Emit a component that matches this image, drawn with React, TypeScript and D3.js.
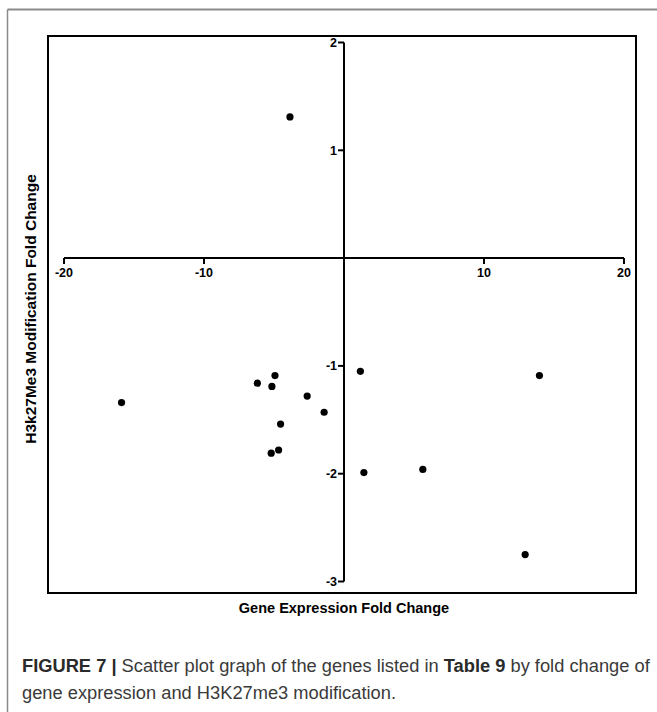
import React from "react";
import * as d3 from "d3";

const geneFC = [-3.86, -15.89, -6.19, -4.93, -5.15, -2.63, -1.42, -4.53, -5.2, -4.67, 1.17, 1.42, 5.63, 13.96, 12.94];
const h3k27FC = [1.31, -1.34, -1.16, -1.09, -1.19, -1.28, -1.43, -1.54, -1.81, -1.78, -1.05, -1.99, -1.96, -1.09, -2.75];
const xTicks = [-20, -10, 10, 20];
const yTicks = [2, 1, -1, -2, -3];
const xTitle = "Gene Expression Fold Change";
const yTitle = "H3k27Me3 Modification Fold Change";

export default function App() {
  const x = d3.scaleLinear().domain([-20, 20]).range([64, 624]);
  const y = d3.scaleLinear().domain([-3, 2]).range([581.5, 42.5]);
  const x0 = x(0);
  const y0 = y(0);
  const font = "'Liberation Sans', Arial, Helvetica, sans-serif";
  return (
    <svg width={657} height={712} style={{ position: "absolute", left: 0, top: 0, background: "#fff" }} fontFamily={font}>
      {/* outer figure box */}
      <line x1={7.5} y1={9.5} x2={657} y2={9.5} stroke="#8a8a8a" strokeWidth={2} />
      <line x1={7.5} y1={9.5} x2={7.5} y2={712} stroke="#8a8a8a" strokeWidth={1.5} />
      {/* plot frame */}
      <rect x={48} y={36} width={588} height={557} fill="none" stroke="#000" strokeWidth={2} />
      {/* x axis */}
      <line x1={x(-20)} y1={y0} x2={x(20)} y2={y0} stroke="#000" strokeWidth={2} />
      {xTicks.map((t) => (
        <g key={"xt" + t}>
          <line x1={x(t)} x2={x(t)} y1={y0} y2={y0 + 6} stroke="#000" strokeWidth={2} />
          <text x={x(t)} y={y0 + 18.5} textAnchor="middle" fontSize={12.5} fontWeight="bold">{t}</text>
        </g>
      ))}
      {/* y axis */}
      <line x1={x0} y1={y(2)} x2={x0} y2={y(-3)} stroke="#000" strokeWidth={2} />
      {yTicks.map((t) => (
        <g key={"yt" + t}>
          <line x1={x0 - 6} x2={x0} y1={y(t)} y2={y(t)} stroke="#000" strokeWidth={2} />
          <text x={x0 - 7} y={y(t) + 4.5} textAnchor="end" fontSize={12.5} fontWeight="bold">{t}</text>
        </g>
      ))}
      {/* points */}
      {geneFC.map((g, i) => (
        <circle key={i} cx={x(g)} cy={y(h3k27FC[i])} r={3.6} fill="#000" />
      ))}
      {/* titles */}
      <text x={x0} y={613} textAnchor="middle" fontSize={14.5} fontWeight="bold">{xTitle}</text>
      <text transform={`translate(36,309) rotate(-90)`} textAnchor="middle" fontSize={15.5} fontWeight="bold">{yTitle}</text>
      {/* caption */}
      <text x={22} y={672} fontSize={18.3} fill="#3a3a3a">
        <tspan fontWeight="bold" fill="#2a2a2a">FIGURE 7 | </tspan>
        <tspan>Scatter plot graph of the genes listed in </tspan>
        <tspan fontWeight="bold" fill="#2a2a2a">Table 9</tspan>
        <tspan> by fold change of</tspan>
      </text>
      <text x={22} y={699} fontSize={18.3} fill="#3a3a3a">gene expression and H3K27me3 modification.</text>
    </svg>
  );
}
